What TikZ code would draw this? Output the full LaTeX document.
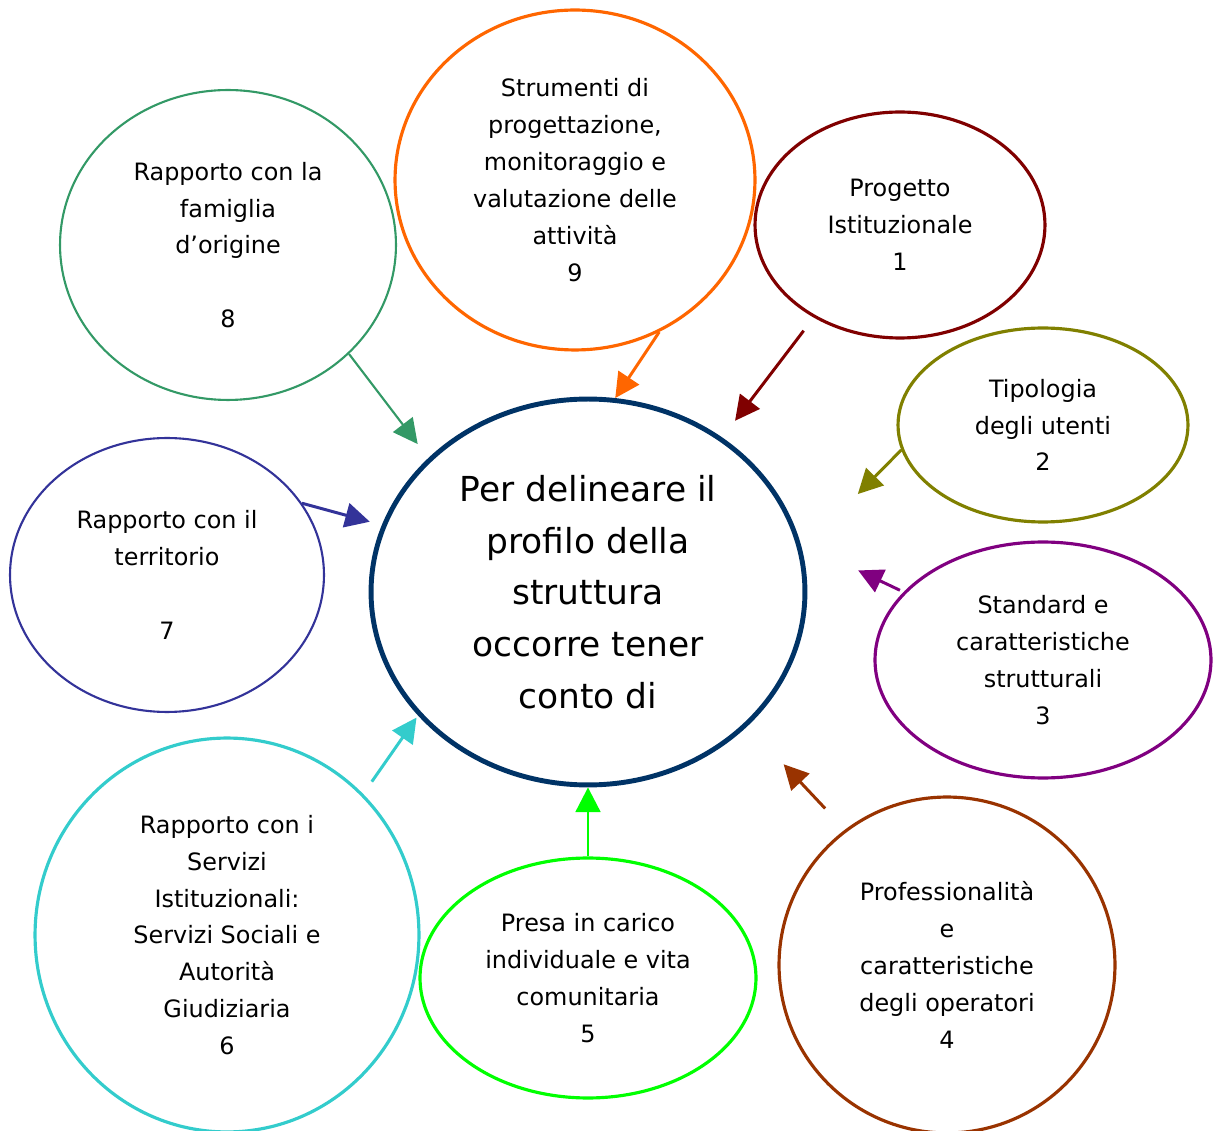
\documentclass[tikz,border=0pt]{standalone}
\usepackage{fontspec}
\setmainfont{DejaVu Sans}
\usetikzlibrary{shapes.geometric,arrows.meta}
\definecolor{ctrblue}{HTML}{003366}
\definecolor{strorange}{HTML}{FF6600}
\definecolor{progred}{HTML}{800000}
\definecolor{utolive}{HTML}{808000}
\definecolor{stdpurple}{HTML}{800080}
\definecolor{opbrown}{HTML}{993300}
\definecolor{presagreen}{HTML}{00FF00}
\definecolor{servcyan}{HTML}{33CCCC}
\definecolor{terrnavy}{HTML}{333399}
\definecolor{famteal}{HTML}{339966}
\begin{document}
\begin{tikzpicture}[x=0.02cm,y=-0.02cm,
  bubble/.style={ellipse,draw,inner sep=0pt,align=center,line width=1.8pt,
    font=\fontsize{13.6}{21}\selectfont},
  arr/.style={-{Triangle[length=14pt,width=14pt]},line width=1.7pt}]
\useasboundingbox (0,0) rectangle (1218,1131);
%\draw[step=50,gray,very thin] (0,0) grid (1218,1131); %background grid

\node[bubble,draw=ctrblue,line width=2.8pt,minimum width=8.68cm,minimum height=7.72cm,
  font=\fontsize{19.6}{29.5}\selectfont] (centro) at (588,592)
  {Per delineare il\\profilo della\\struttura\\occorre tener\\conto di};

\node[bubble,draw=strorange,minimum width=7.2cm,minimum height=6.8cm] (strumenti) at (575,180)
  {Strumenti di\\progettazione,\\monitoraggio e\\valutazione delle\\attività\\9};
\node[bubble,draw=progred,minimum width=5.8cm,minimum height=4.52cm] (progetto) at (900,225)
  {Progetto\\Istituzionale\\1};
\node[bubble,draw=utolive,minimum width=5.8cm,minimum height=3.88cm] (utenti) at (1043,425)
  {Tipologia\\degli utenti\\2};
\node[bubble,draw=stdpurple,minimum width=6.72cm,minimum height=4.72cm] (standard) at (1043,660)
  {Standard e\\caratteristiche\\strutturali\\3};
\node[bubble,draw=opbrown,minimum width=6.72cm,minimum height=6.72cm] (operatori) at (947,965)
  {Professionalità\\e\\caratteristiche\\degli operatori\\4};
\node[bubble,draw=presagreen,minimum width=6.72cm,minimum height=4.8cm] (presa) at (588,978)
  {Presa in carico\\individuale e vita\\comunitaria\\5};
\node[bubble,draw=servcyan,minimum width=7.68cm,minimum height=7.88cm] (servizi) at (227,935)
  {Rapporto con i\\Servizi\\Istituzionali:\\Servizi Sociali e\\Autorità\\Giudiziaria\\6};
\node[bubble,draw=terrnavy,line width=1.2pt,minimum width=6.28cm,minimum height=5.48cm] (territorio) at (167,575)
  {Rapporto con il\\territorio\\[21pt]7};
\node[bubble,draw=famteal,line width=1.2pt,minimum width=6.72cm,minimum height=6.2cm] (famiglia) at (228,245)
  {Rapporto con la\\famiglia\\d’origine\\[21pt]8};

\draw[arr,color=famteal,line width=1.2pt,shorten >=0.35cm] (famiglia.-42) -- (centro.140.6);
\draw[arr,color=strorange] (strumenti.-61.3) -- (centro.82.4);
\draw[arr,color=progred,shorten <=0.33cm,shorten >=0.42cm] (progetto.-133.3) -- (centro.49.1);
\draw[arr,color=utolive,shorten >=1.58cm] (utenti.-170.5) -- (centro.11.3);
\draw[arr,color=stdpurple,shorten <=0.08cm,shorten >=1.28cm] (standard.154.6) -- (centro.13.5);
\draw[arr,color=opbrown,shorten <=0.58cm,shorten >=1.05cm] (operatori.127.2) -- (centro.-40.3);
\draw[arr,color=presagreen] (presa.90) -- (centro.-90);
\draw[arr,color=servcyan,shorten <=0.3cm,shorten >=0.05cm] (servizi.46.3) -- (centro.-144.1);
\draw[arr,color=terrnavy,shorten >=0.25cm] (territorio.28.8) -- (centro.162.6);
\end{tikzpicture}
\end{document}
